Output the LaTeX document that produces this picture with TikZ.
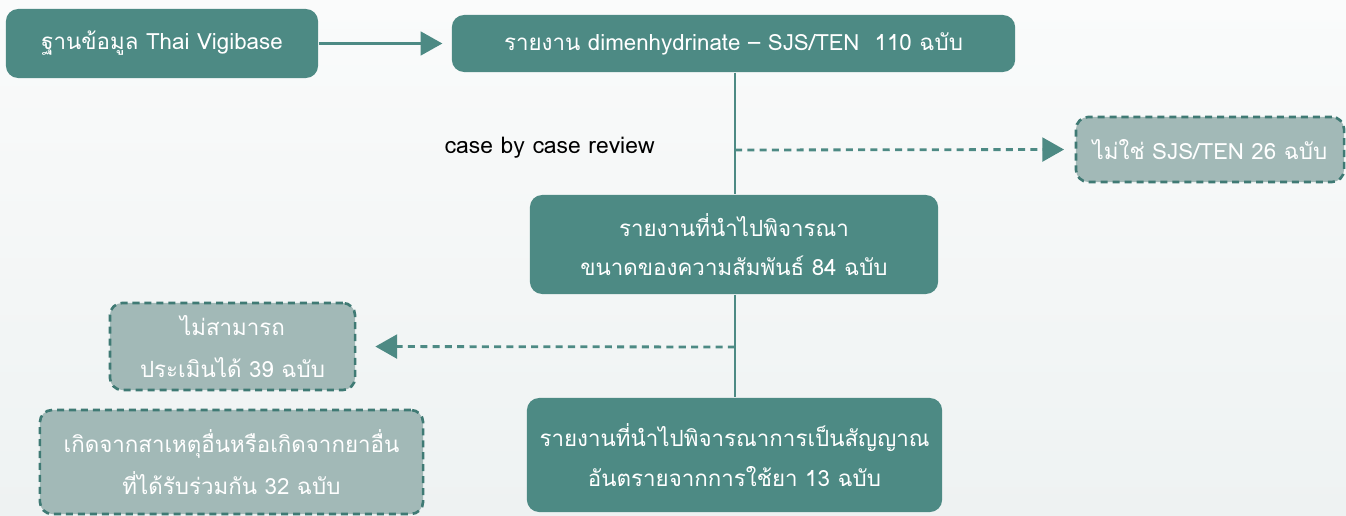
\documentclass[tikz,border=0pt]{standalone}
\usepackage{fontspec}
\setmainfont[Script=Thai]{Loma}
\usetikzlibrary{arrows.meta}
\definecolor{teal1}{HTML}{4D8A84}
\definecolor{gray1}{HTML}{A2B9B7}
\definecolor{dash1}{HTML}{3F7A74}
\definecolor{bgtop}{HTML}{FAFBFB}
\definecolor{bgbot}{HTML}{EEF2F2}
\begin{document}
\begin{tikzpicture}[x=0.01cm,y=-0.01cm,
  mainbox/.style={draw=none,fill=teal1,rounded corners=3.5pt,text=white,align=center,inner sep=0pt,font=\fontsize{6.35}{11.2}\selectfont},
  grybox/.style={draw=dash1,fill=gray1,dash pattern=on 2pt off 1.4pt,line width=0.75pt,rounded corners=3.5pt,text=white,align=center,inner sep=0pt,font=\fontsize{6.35}{12}\selectfont},
  link/.style={draw=teal1,line width=0.6pt},
  tip/.style={-{Triangle[length=6.2pt,width=6.8pt]}},
  dline/.style={draw=teal1,line width=0.8pt,dash pattern=on 2pt off 1.5pt}
]
\shade[top color=bgtop,bottom color=bgbot] (0,0) rectangle (1346,515);
\useasboundingbox (0,0) rectangle (1346,515);
\node[mainbox,minimum width=3.12cm,minimum height=0.69cm] (A) at (162,43.5) {ฐานข้อมูล Thai Vigibase};
\node[mainbox,minimum width=5.63cm,minimum height=0.57cm] (B) at (733.5,43.5) {รายงาน dimenhydrinate – SJS/TEN\ \ 110 ฉบับ};
\node[mainbox,minimum width=4.08cm,minimum height=0.99cm] (C) at (734,244.5) {รายงานที่นำไปพิจารณา\\ขนาดของความสัมพันธ์ 84 ฉบับ};
\node[grybox,minimum width=2.68cm,minimum height=0.65cm] (D) at (1210,149.5) {ไม่ใช่ SJS/TEN 26 ฉบับ};
\node[mainbox,minimum width=4.15cm,minimum height=1.14cm] (E) at (734.5,455) {รายงานที่นำไปพิจารณาการเป็นสัญญาณ\\อันตรายจากการใช้ยา 13 ฉบับ};
\node[grybox,minimum width=2.45cm,minimum height=0.87cm] (F) at (232.5,346.5) {ไม่สามารถ\\ประเมินได้ 39 ฉบับ};
\node[grybox,minimum width=3.83cm,minimum height=1.04cm] (G) at (231.5,462) {เกิดจากสาเหตุอื่นหรือเกิดจากยาอื่น\\ที่ได้รับร่วมกัน 32 ฉบับ};
\node[font=\fontsize{6.5}{9}\selectfont,text=black,anchor=west,inner sep=0pt] (L) at (444,148) {case by case review};
\coordinate (J1) at (735,150);
\coordinate (J2) at (735,347);
\draw[link,tip,shorten >=2.5pt] (A.east) -- (B.west);
\draw[link] (B.south -| J1) -- (C.north -| J1);
\draw[link] (C.south -| J1) -- (E.north -| J1);
\draw[dline,tip,shorten >=3pt] (J1) -- (D.west);
\draw[dline,tip,shorten >=5.4pt] (J2) -- (F.east);
\end{tikzpicture}
\end{document}
